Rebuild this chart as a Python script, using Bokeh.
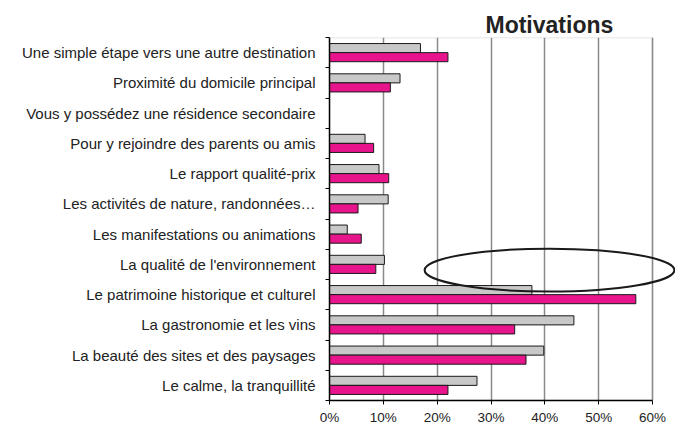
from bokeh.plotting import figure
from bokeh.models import Range1d, FixedTicker, NumeralTickFormatter, BoxAnnotation, ColumnDataSource
from bokeh.transform import dodge
from bokeh.embed import file_html
from bokeh.resources import INLINE
import numpy as np

categories = [
    "Une simple étape vers une autre destination",
    "Proximité du domicile principal",
    "Vous y possédez une résidence secondaire",
    "Pour y rejoindre des parents ou amis",
    "Le rapport qualité-prix",
    "Les activités de nature, randonnées…",
    "Les manifestations ou animations",
    "La qualité de l'environnement",
    "Le patrimoine historique et culturel",
    "La gastronomie et les vins",
    "La beauté des sites et des paysages",
    "Le calme, la tranquillité",
]
series_gray = [16.9, 13.1, 0.0, 6.6, 9.2, 10.9, 3.3, 10.2, 37.6, 45.4, 39.8, 27.4]
series_pink = [22.0, 11.3, 0.0, 8.2, 11.0, 5.3, 5.9, 8.6, 56.9, 34.4, 36.5, 22.0]
x_ticks = [0, 0.1, 0.2, 0.3, 0.4, 0.5, 0.6]

FONT = "Liberation Sans"
n = len(categories)
ypos = np.array([n - 0.5 - i for i in range(n)])

src = ColumnDataSource(dict(
    y=ypos,
    gray=np.array(series_gray) / 100.0,
    pink=np.array(series_pink) / 100.0,
))

p = figure(width=675, height=432, output_backend="svg", toolbar_location=None,
           x_range=Range1d(0, 0.6427), y_range=Range1d(0, n),
           min_border_left=329, min_border_right=0, min_border_top=37,
           min_border_bottom=32)

p.title.text = "Motivations"
p.title.text_font = FONT
p.title.text_font_size = "23px"
p.title.text_font_style = "bold"
p.title.text_color = "#222222"
p.title.align = "left"
p.title.offset = 156
p.title.standoff = 0

p.outline_line_color = None
p.background_fill_color = "white"
p.border_fill_color = "white"

# bars
p.hbar(y=dodge('y', 0.15, range=p.y_range), height=0.3, left=0, right='gray', source=src,
       fill_color="#c8c8c8", line_color="#1a1a1a", line_width=1)
p.hbar(y=dodge('y', -0.15, range=p.y_range), height=0.3, left=0, right='pink', source=src,
       fill_color="#e8148b", line_color="#1a1a1a", line_width=1)

# plot-area box (top + right edges)
p.add_layout(BoxAnnotation(left=0, right=0.6, bottom=0, top=n, fill_alpha=0,
                           line_color="#8a8a8a", line_width=1.5, level="underlay"))

# highlight ellipse
p.ellipse(x=0.4087, y=4.31, width=0.464, height=1.42, fill_color=None,
          line_color="#1a1a1a", line_width=2)

# x axis
p.xaxis.ticker = FixedTicker(ticks=x_ticks)
p.xaxis.formatter = NumeralTickFormatter(format="0%")
p.xaxis.bounds = (0, 0.6)
p.xaxis.axis_line_color = "black"
p.xaxis.axis_line_width = 1.5
p.xaxis.major_tick_line_color = "black"
p.xaxis.major_tick_out = 4
p.xaxis.major_tick_in = 0
p.xaxis.minor_tick_line_color = None
p.xaxis.major_label_text_font = FONT
p.xaxis.major_label_text_font_size = "13.5px"
p.xaxis.major_label_text_color = "#222222"
p.xaxis.major_label_standoff = 5

p.xgrid.ticker = FixedTicker(ticks=x_ticks)
p.xgrid.grid_line_color = "#8a8a8a"
p.xgrid.grid_line_width = 1.5
p.ygrid.grid_line_color = None

# y axis: labels at category centres, ticks at category boundaries
p.yaxis.ticker = FixedTicker(ticks=list(ypos), minor_ticks=list(range(n + 1)))
p.yaxis.major_label_overrides = {float(y): c for y, c in zip(ypos, categories)}
p.yaxis.axis_line_color = "black"
p.yaxis.axis_line_width = 1.5
p.yaxis.major_tick_line_color = None
p.yaxis.major_tick_out = 0
p.yaxis.major_tick_in = 0
p.yaxis.minor_tick_line_color = "black"
p.yaxis.minor_tick_out = 4
p.yaxis.minor_tick_in = 0
p.yaxis.major_label_text_font = FONT
p.yaxis.major_label_text_font_size = "15px"
p.yaxis.major_label_text_color = "#222222"
p.yaxis.major_label_standoff = 10

open("out.html", "w").write(file_html(p, INLINE))
